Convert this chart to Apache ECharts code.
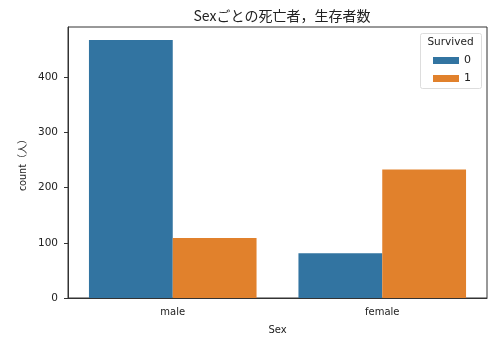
<!DOCTYPE html>
<html><head><meta charset="utf-8">
<script src="https://cdn.jsdelivr.net/npm/echarts@6/dist/echarts.min.js"></script>
<style>html,body{margin:0;padding:0;background:#fff}#c{width:497px;height:350px}</style>
</head><body><div id="c"></div>
<script>
const categories = ['male', 'female'];
const survived0 = [468, 81];
const survived1 = [109, 233];
const seriesNames = ['0', '1'];
const yTicks = [0, 100, 200, 300, 400];

const chart = echarts.init(document.getElementById('c'), null, {renderer: 'canvas'});
const font = "'DejaVu Sans', 'Noto Sans CJK JP', sans-serif";
const jfont = "'Noto Sans CJK JP', sans-serif";
chart.setOption({
  animation: false,
  backgroundColor: '#fff',
  title: {
    text: 'Sexごとの死亡者，生存者数',
    left: 277, top: 4, textAlign: 'center',
    textStyle: {fontFamily: jfont, fontSize: 14, fontWeight: 'normal', color: '#222'}
  },
  grid: {left: 68, right: 10, top: 27, bottom: 52, show: true, borderColor: '#333', borderWidth: 1},
  legend: {
    data: seriesNames, orient: 'vertical', left: 428, top: 50,
    itemWidth: 26, itemHeight: 7, itemGap: 7, icon: 'rect',
    textStyle: {fontFamily: font, fontSize: 11, color: '#222'}
  },
  graphic: [
    {type: 'rect', shape: {x: 420.5, y: 33.5, width: 61, height: 55, r: 2},
     style: {fill: 'rgba(255,255,255,0.8)', stroke: '#ddd', lineWidth: 1}, z: 1},
    {type: 'text', x: 450.5, y: 37, style: {text: 'Survived', fontFamily: font, fontSize: 10.5, fill: '#222', textAlign: 'center'}, z: 2}
  ],
  xAxis: {
    type: 'category', data: categories,
    name: 'Sex', nameLocation: 'middle', nameGap: 27,
    nameTextStyle: {fontFamily: font, fontSize: 10, color: '#222'},
    axisLine: {lineStyle: {color: '#333'}},
    axisTick: {alignWithLabel: true, length: 4, lineStyle: {color: '#333'}},
    axisLabel: {fontFamily: font, fontSize: 10, color: '#222', margin: 9}
  },
  yAxis: {
    type: 'value', min: 0, max: 491.4, interval: 100,
    name: 'count（人）', nameLocation: 'middle', nameGap: 38, nameRotate: 90,
    nameTextStyle: {fontFamily: jfont, fontSize: 10, color: '#222'},
    axisLine: {show: true, lineStyle: {color: '#333'}},
    axisTick: {show: true, length: 4, lineStyle: {color: '#333'}, customValues: yTicks},
    axisLabel: {fontFamily: font, fontSize: 10.5, color: '#222', margin: 10, customValues: yTicks},
    splitLine: {show: false}
  },
  series: [
    {name: seriesNames[0], type: 'bar', data: survived0, itemStyle: {color: '#3274a1'}, barGap: '0%', barCategoryGap: '20%'},
    {name: seriesNames[1], type: 'bar', data: survived1, itemStyle: {color: '#e1812c'}, barGap: '0%', barCategoryGap: '20%'}
  ]
});
</script></body></html>
